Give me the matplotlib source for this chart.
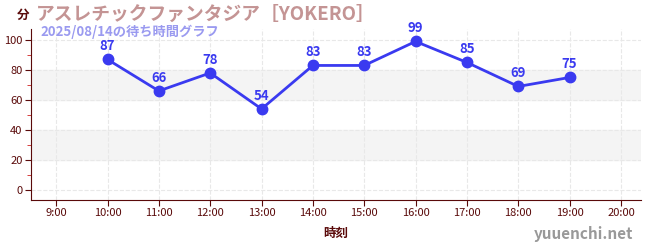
import numpy as np
import matplotlib.pyplot as plt

plt.rcParams['font.family'] = ['Noto Sans CJK JP', 'DejaVu Sans']

hours = [10, 11, 12, 13, 14, 15, 16, 17, 18, 19]
waits = [87, 66, 78, 54, 83, 83, 99, 85, 69, 75]
tick_hours = list(range(9, 21))
tick_labels = ['%d:00' % h for h in tick_hours]

dark = '#5a0a0a'
line_color = '#3a3af0'

fig = plt.figure(figsize=(6.5, 2.5), dpi=100)
ax = fig.add_axes([31 / 650, 50 / 250, 610 / 650, 171 / 250])

ax.axhspan(20, 40, color='#f4f4f4', zorder=0)
ax.axhspan(60, 80, color='#f4f4f4', zorder=0)

ax.plot(hours, waits, color=line_color, lw=2, marker='o', ms=7.5, zorder=3)
for h, w in zip(hours, waits):
    ax.annotate(str(w), (h, w), xytext=(0, 4.5), textcoords='offset points',
                ha='center', va='bottom', color=line_color, fontsize=9.5,
                fontweight='bold')

ax.set_xlim(8.51, 20.39)
ax.set_ylim(-6.7, 107.3)
ax.set_xticks(tick_hours)
ax.set_xticklabels(tick_labels)
ax.set_yticks([0, 20, 40, 60, 80, 100])
ax.set_yticks([10, 30, 50, 70, 90], minor=True)
ax.tick_params(axis='both', colors=dark, labelsize=8, length=4, pad=2)
ax.tick_params(axis='y', which='minor', colors='#d02020', length=3)
for lab in ax.get_xticklabels() + ax.get_yticklabels():
    lab.set_color(dark)
ax.grid(True, color='#e8e8e8', ls='--', lw=0.8)
ax.set_axisbelow(True)
for s in ['top', 'right']:
    ax.spines[s].set_visible(False)
for s in ['left', 'bottom']:
    ax.spines[s].set_color(dark)
ax.set_xlabel('時刻', color=dark, fontsize=9, fontweight='bold', labelpad=6)

fig.text(17 / 650, 235 / 250, '分', color=dark, fontsize=9, fontweight='bold',
         va='center', ha='left')
fig.text(36 / 650, 236 / 250, 'アスレチックファンタジア［YOKERO］', color='#c49494',
         fontsize=13.5, fontweight='bold', va='center', ha='left')
fig.text(40 / 650, 218 / 250, '2025/08/14の待ち時間グラフ', color='#9a9af0',
         fontsize=9.5, fontweight='bold', va='center', ha='left')
fig.text(633 / 650, 16 / 250, 'yuuenchi.net', color='#999999', fontsize=11,
         fontweight='bold', va='center', ha='right')

fig.savefig('out.png', dpi=100)
